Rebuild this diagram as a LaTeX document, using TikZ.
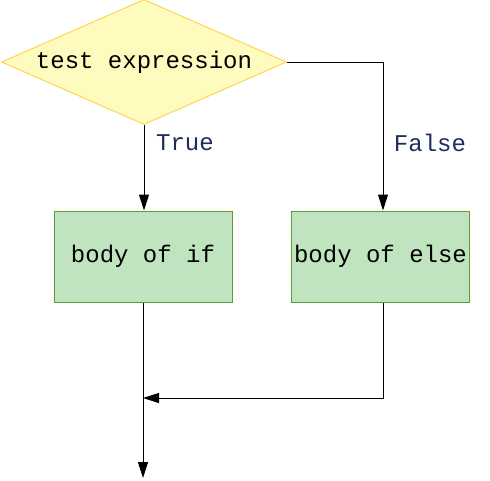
\documentclass[tikz,border=0pt]{standalone}
\usepackage{fontspec}
\newfontfamily\codefont{Liberation Mono}
\usetikzlibrary{positioning,shapes.geometric,arrows.meta}
\definecolor{condfill}{RGB}{255,250,190}
\definecolor{conddraw}{RGB}{250,215,80}
\definecolor{bodyfill}{RGB}{192,228,192}
\definecolor{bodydraw}{RGB}{95,155,50}
\definecolor{labcol}{RGB}{30,45,90}
\begin{document}
\begin{tikzpicture}[x=1pt,y=-1pt,line width=1pt,
  font=\codefont\fontsize{24}{28}\selectfont,
  decision/.style={diamond,draw=conddraw,fill=condfill,inner sep=0pt,minimum width=285pt,minimum height=125pt},
  bodybox/.style={rectangle,draw=bodydraw,fill=bodyfill,inner sep=0pt,minimum width=178pt,minimum height=91pt},
  flow/.style={-{Triangle[width=10pt,length=16pt]}},
  branch/.style={labcol,inner sep=0pt}]
\useasboundingbox (0,0) rectangle (490,480);
\node[decision,label=center:{test expression}] (test) at (144,62) {};
\node[bodybox] (ifbox) at (143,256.5) {body of if};
\node[bodybox] (elsebox) at (380.5,256.5) {body of else};
\node[branch] (true) at (185,143) {True};
\node[branch] (false) at (430,143) {False};
\coordinate (join) at (143,398);
\coordinate (end) at (143,478);
\draw[flow] (test.south) -- (test.south |- ifbox.north);
\draw[flow] (test.east) -| ([xshift=2.5pt]elsebox.north);
\draw[flow] ([xshift=2.5pt]elsebox.south) |- (join);
\draw[flow] (ifbox.south) -- (ifbox.south |- end);
\end{tikzpicture}
\end{document}
